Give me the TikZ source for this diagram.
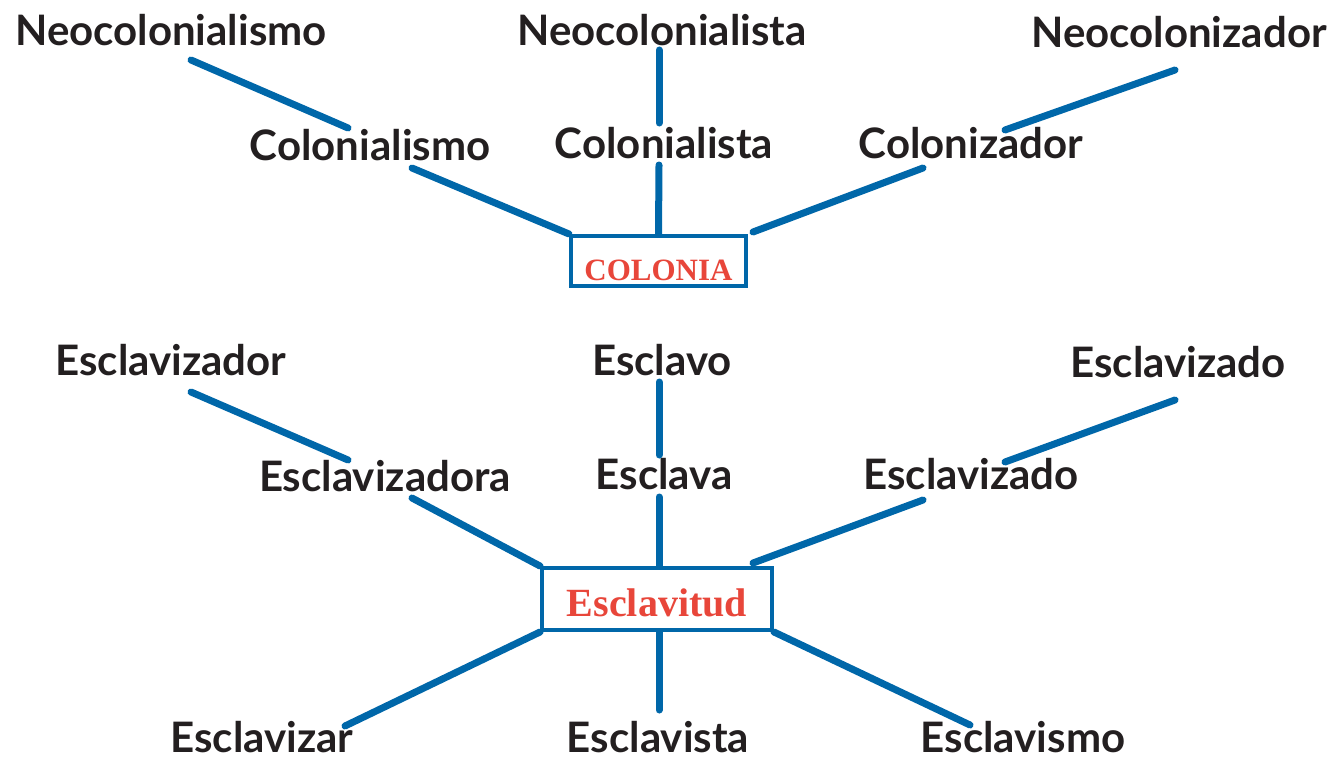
\documentclass[tikz,border=0pt]{standalone}
\usepackage{fontspec}
\setmainfont{Lato}
\newfontfamily\boxfont{Liberation Serif}
\definecolor{lineblue}{HTML}{0067A9}
\definecolor{boxred}{HTML}{E8463A}
\definecolor{txt}{HTML}{231F20}
\begin{document}
\begin{tikzpicture}[x=1pt,y=-1pt,
  word/.style={inner sep=0pt,text=txt,font=\fontsize{42}{46}\selectfont\bfseries},
  link/.style={draw=lineblue,line width=7pt,line cap=round},
  hub/.style={draw=lineblue,line width=4pt,inner sep=0pt,fill=white,text=boxred}]
\useasboundingbox (0,0) rectangle (1340,760);
% top group
\node[word] (neoism) at (171,30) {Neocolonialismo};
\node[word] (neoista) at (662,30) {Neocolonialista};
\node[word] (neoizad) at (1179,32) {Neocolonizador};
\node[word] (colism) at (370,145) {Colonialismo};
\node[word] (colista) at (664,143) {Colonialista};
\node[word] (colizad) at (971,143) {Colonizador};
\node[hub,minimum width=175pt,minimum height=50pt,text height=40pt,text depth=2pt,
  font=\boxfont\bfseries\fontsize{31}{34}\selectfont] (colonia) at (658.5,261) {COLONIA};
\coordinate (a1) at (191,60); \coordinate (a2) at (348,128);
\coordinate (b1) at (659,50); \coordinate (b2) at (659,123);
\coordinate (c1) at (1175,70); \coordinate (c2) at (1005,130);
\coordinate (d1) at (412,168);
\coordinate (e1) at (659,165);
\coordinate (f1) at (923,168); \coordinate (f2) at (753,232);
\draw[link] (a1) -- (a2);
\draw[link] (b1) -- (b2);
\draw[link] (c1) -- (c2);
\draw[link] (d1) -- (colonia.north west);
\draw[link] (e1) -- (colonia.north);
\draw[link] (f1) -- (f2);
% bottom group
\node[word] (esclzor) at (171,360) {Esclavizador};
\node[word] (esclavo) at (662,360) {Esclavo};
\node[word] (esclzdo1) at (1178,362) {Esclavizado};
\node[word] (esclzora) at (385,476) {Esclavizadora};
\node[word] (esclava) at (664,474) {Esclava};
\node[word] (esclzdo2) at (971,474) {Esclavizado};
\node[word,text depth=0pt] (esclzar) at (262,737) {Esclavizar};
\node[word,text depth=0pt] (esclista) at (658,737) {Esclavista};
\node[word,text depth=0pt] (esclismo) at (1023,737) {Esclavismo};
\node[hub,minimum width=230pt,minimum height=62pt,text height=38pt,text depth=4pt,
  font=\boxfont\bfseries\fontsize{40}{44}\selectfont] (esclavitud) at (657,599) {Esclavitud};
\coordinate (g1) at (191,392); \coordinate (g2) at (348,460);
\coordinate (h1) at (659,382); \coordinate (h2) at (659,455);
\coordinate (i1) at (1175,400); \coordinate (i2) at (1005,462);
\coordinate (j1) at (412,498);
\coordinate (k1) at (659,497);
\coordinate (l1) at (923,500); \coordinate (l2) at (753,563);
\coordinate (m1) at (345,726);
\coordinate (n1) at (659,710);
\coordinate (o1) at (970,725);
\draw[link] (g1) -- (g2);
\draw[link] (h1) -- (h2);
\draw[link] (i1) -- (i2);
\draw[link] (j1) -- (esclavitud.north west);
\draw[link] (k1) -- ([xshift=2pt]esclavitud.north);
\draw[link] (l1) -- (l2);
\draw[link] (esclavitud.south west) -- (m1);
\draw[link] ([xshift=2pt]esclavitud.south) -- (n1);
\draw[link] (esclavitud.south east) -- (o1);
\end{tikzpicture}
\end{document}
